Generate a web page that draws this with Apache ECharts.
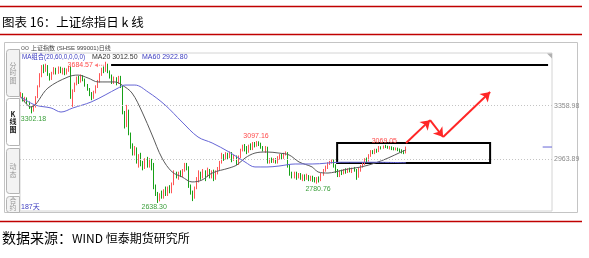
<!DOCTYPE html>
<html><head><meta charset="utf-8">
<script src="https://cdn.jsdelivr.net/npm/echarts@6/dist/echarts.min.js"></script>
<style>html,body{margin:0;padding:0;background:#fff;}#c{width:589px;height:258px;}</style>
</head><body><div id="c"></div>
<script>
// ---- data ----
const titleText = '图表 16：上证综指日 k 线';
const sourceLead = '数据来源：';
const sourceRest = 'WIND 恒泰期货研究所';
const headerText = '上证指数 (SHSE 999001)日线';
const maLegend = ['MA组合(20,60,0,0,0,0)', 'MA20 3012.50', 'MA60 2922.80'];
const yTicks = [3358.98, 2963.89];
const totalSlots = 257;
// [open, close, low, high]
const candles = [
[3430,3445,3420,3460],[3445,3400,3390,3452],[3400,3415,3385,3425],[3415,3380,3370,3420],[3380,3350,3335,3390],
[3350,3320,3302.18,3355],[3320,3350,3315,3365],[3350,3420,3345,3430],[3420,3500,3415,3510],[3500,3580,3495,3600],
[3580,3640,3570,3660],[3640,3620,3600,3665],[3620,3650,3610,3670],[3650,3590,3580,3660],[3590,3560,3545,3600],
[3560,3600,3550,3610],[3600,3630,3590,3645],[3630,3600,3590,3640],[3600,3640,3595,3650],[3640,3610,3600,3648],
[3610,3630,3590,3640],[3630,3600,3585,3640],[3600,3625,3590,3635],[3625,3640,3610,3655],[3640,3420,3410,3650],
[3420,3470,3350,3480],[3470,3520,3460,3530],[3520,3560,3510,3575],[3560,3540,3520,3580],[3540,3575,3530,3590],
[3575,3550,3540,3585],[3550,3510,3500,3560],[3510,3480,3470,3520],[3480,3450,3430,3490],[3450,3420,3400,3460],
[3420,3460,3410,3470],[3460,3500,3450,3510],[3500,3540,3490,3550],[3540,3590,3530,3600],[3590,3630,3580,3640],
[3630,3620,3600,3650],[3620,3660,3610,3684.57],[3660,3610,3600,3670],[3610,3580,3560,3620],[3580,3540,3520,3590],
[3540,3560,3520,3575],[3560,3530,3510,3570],[3530,3570,3520,3580],[3570,3500,3490,3580],[3500,3305,3295,3505],
[3305,3200,3190,3320],[3210,3340,3200,3365],[3320,3150,3140,3330],[3150,3060,3040,3160],[3060,3010,2990,3080],
[3000,3040,2990,3060],[3040,2950,2930,3050],[2950,2990,2900,3000],[2990,2930,2910,3010],[2930,2900,2880,2950],
[2900,2950,2890,2970],[2950,2920,2900,2980],[2920,2960,2900,2970],[2960,2930,2880,2965],[2930,2760,2740,2935],
[2760,2700,2690,2775],[2700,2660,2638.30,2720],[2660,2700,2650,2710],[2700,2680,2670,2730],[2680,2720,2670,2740],
[2720,2700,2690,2760],[2700,2740,2690,2760],[2740,2720,2710,2770],[2720,2780,2710,2790],[2780,2850,2770,2880],
[2850,2830,2820,2870],[2830,2860,2810,2870],[2860,2840,2830,2880],[2840,2880,2830,2890],[2880,2920,2870,2935],
[2920,2900,2880,2935],[2900,2760,2750,2910],[2760,2720,2700,2775],[2720,2680,2652,2730],[2680,2750,2670,2760],
[2750,2800,2740,2830],[2800,2860,2790,2880],[2860,2830,2810,2870],[2830,2870,2820,2890],[2870,2840,2800,2880],
[2840,2880,2830,2900],[2880,2850,2820,2890],[2850,2870,2820,2880],[2870,2830,2800,2885],[2830,2860,2810,2880],
[2860,2890,2850,2905],[2890,2940,2880,2950],[2940,2990,2930,3010],[2990,2970,2950,3000],[2970,3000,2960,3015],
[3000,2980,2960,3010],[2980,3010,2970,3020],[3010,2960,2940,3015],[2960,2980,2950,2995],[2980,2930,2920,2990],
[2930,2980,2920,2990],[2980,3030,2970,3040],[3030,3060,3020,3070],[3060,3040,3020,3075],[3040,3020,3000,3060],
[3020,3060,3010,3070],[3060,3040,3030,3080],[3040,3080,3030,3090],[3080,3060,3050,3090],[3060,3090,3055,3097.16],
[3090,3080,3060,3095],[3080,3050,3040,3085],[3050,3040,3020,3060],[3040,3050,3010,3060],[3050,2940,2930,3055],
[2940,2960,2930,2970],[2960,2945,2935,2975],[2945,2960,2935,2970],[2960,2940,2930,2970],[2940,2970,2930,2985],
[2970,2990,2960,3000],[2990,2975,2960,3005],[2975,3000,2965,3010],[3000,3010,2990,3020],[3010,2910,2900,3015],
[2910,2860,2840,2920],[2860,2840,2820,2870],[2840,2860,2820,2870],[2860,2830,2810,2870],[2830,2850,2820,2860],
[2850,2830,2810,2860],[2830,2840,2800,2850],[2840,2820,2800,2850],[2820,2840,2810,2855],[2840,2820,2800,2845],
[2820,2830,2800,2840],[2830,2810,2795,2840],[2810,2800,2790,2830],[2800,2820,2780.76,2830],[2820,2810,2790,2835],
[2810,2850,2800,2860],[2850,2880,2840,2890],[2880,2900,2870,2915],[2900,2930,2890,2940],[2930,2940,2920,2950],
[2940,2955,2930,2960],[2955,2920,2900,2960],[2920,2880,2860,2925],[2880,2850,2830,2890],[2850,2870,2830,2880],
[2870,2860,2845,2885],[2860,2880,2850,2890],[2880,2870,2855,2895],[2870,2885,2860,2895],[2885,2875,2865,2900],
[2875,2890,2860,2900],[2890,2880,2870,2905],[2880,2830,2810,2890],[2830,2880,2825,2900],[2880,2910,2870,2920],
[2910,2930,2900,2940],[2930,2960,2920,2970],[2960,2950,2940,2975],[2950,2990,2945,3000],[2990,3020,2980,3030],
[3020,3010,3000,3030],[3010,3030,3000,3040],[3030,3025,3010,3040],[3025,3050,3015,3060],[3050,3045,3035,3058],
[3045,3060,3040,3064],[3060,3055,3045,3069.05],[3055,3050,3040,3062],[3050,3052,3035,3060],[3052,3045,3030,3058],
[3045,3040,3028,3052],[3040,3044,3028,3050],[3044,3035,3022,3048],[3035,3028,3015,3042],[3028,3018,3005,3036],
[3018,3012,3000,3030],[3012,3050,3005,3056]
];
// [dayIndex, value]
const ma20 = [[0,3423],[4.8,3349],[13,3490],[22.7,3572],[27.5,3586],[32.4,3564],[37.2,3535],[42,3535],[45.4,3535],
[48.8,3512],[53.6,3453],[58.5,3312],[63.3,3142],[68.1,2971],[73,2868],[77.8,2831],[82.6,2794],[87.4,2808],[92.3,2860],
[100.5,2897],[104.3,2920],[108.2,2971],[113,3008],[118.8,3016],[124.6,3008],[129.5,2994],[134.3,2942],[140.6,2905],
[143.5,2868],[148.3,2860],[151.7,2868],[158,2890],[164.3,2905],[171,2934],[177.3,2971],[183.6,3016],[186,3031]];
const ma60 = [[0,3423],[6.8,3364],[14.5,3342],[19.3,3312],[25,3342],[33.8,3386],[40.6,3438],[46.9,3490],[50.2,3512],
[55,3512],[61.4,3460],[69.6,3364],[77.8,3238],[85.5,3127],[92.3,3083],[100.5,3016],[108.2,2942],[113,2905],[118.8,2905],
[124.6,2912],[132.4,2927],[140.6,2927],[154.6,2940],[171,2940],[186,2936]];
// extreme points labelled on the chart: [dayIndex, value]
const extremes = [[41,3684.57],[5,3302.18],[66,2638.30],[114,3097.16],[143,2780.76],[176,3069.05]];
// hand-drawn annotations (in data coordinates)
const resistance = {from:43.5, to:254.6, value:3660.6};
const box = {from:152.7, to:226.6, top:3082, bottom:2934};
const arrowPath = [[186,3082],[197.6,3252],[203.9,3127],[226.6,3460]];

const categories = Array.from({length: totalSlots}, (_, i) => 'D' + (i + 1));
const upColor = '#ff5656', downColor = '#17a017';
const cjk = '"Noto Sans CJK SC", sans-serif';
const num = '"Liberation Sans", "Noto Sans CJK SC", sans-serif';

const chart = echarts.init(document.getElementById('c'));
chart.setOption({
  animation: false,
  backgroundColor: '#fff',
  grid: {left: 20, right: 37, top: 53, bottom: 47, show: true, borderColor: '#d4d4d4', borderWidth: 1},
  xAxis: [
    {type: 'category', data: categories, boundaryGap: true, show: false},
    {type: 'value', min: -0.5, max: totalSlots - 0.5, show: false}
  ],
  yAxis: [{type: 'value', min: 2578.7, max: 3749.5, show: false}],
  series: [
    {type: 'candlestick', xAxisIndex: 0, yAxisIndex: 0, data: candles, barWidth: 1.3,
     itemStyle: {color: upColor, color0: downColor, borderColor: upColor, borderColor0: downColor, borderWidth: 1},
     markLine: {silent: true, symbol: ['none', 'none'],
       lineStyle: {type: [1, 2], color: '#c4c4c4', width: 1},
       label: {position: 'end', distance: 2, color: '#8a8a8a', fontSize: 7, fontFamily: num,
               formatter: p => Number(p.value).toFixed(2)},
       data: yTicks.map(v => ({yAxis: v}))}
    },
    {type: 'line', name: 'MA20', xAxisIndex: 1, yAxisIndex: 0, data: ma20, showSymbol: false, smooth: 0.35,
     lineStyle: {color: '#5a5a5a', width: 1}, z: 3,
     markLine: {silent: true, symbol: ['none', 'none'], label: {show: false},
       lineStyle: {color: '#000', width: 2, type: 'solid'},
       data: [[{coord: [resistance.from, resistance.value]}, {coord: [resistance.to, resistance.value]}]]}
    },
    {type: 'line', name: 'MA60', xAxisIndex: 1, yAxisIndex: 0, data: ma60, showSymbol: false, smooth: 0.35,
     lineStyle: {color: '#6666d6', width: 1}, z: 3,
     markArea: {silent: true, itemStyle: {color: 'rgba(0,0,0,0)', borderColor: '#000', borderWidth: 2},
       data: [[{coord: [box.from, box.top]}, {coord: [box.to, box.bottom]}]]},
     markLine: {silent: true, symbol: ['none', 'arrow'], symbolSize: 9, label: {show: false},
       lineStyle: {color: '#ff2626', width: 2, type: 'solid'},
       data: arrowPath.slice(1).map((p, k) => [{coord: arrowPath[k]}, {coord: p}])}
    }
  ]
});

function px(i, v) { return chart.convertToPixel({xAxisIndex: 1, yAxisIndex: 0}, [i, v]); }

const g = [];
// report frame
g.push({type: 'line', shape: {x1: 0, y1: 6.5, x2: 582, y2: 6.5}, style: {stroke: '#c00000', lineWidth: 1.5}});
g.push({type: 'text', x: 2, y: 22, style: {text: titleText, font: '12.5px ' + cjk, fill: '#000', textVerticalAlign: 'middle'}});
g.push({type: 'line', shape: {x1: 0, y1: 34.5, x2: 582, y2: 34.5}, style: {stroke: '#c00000', lineWidth: 1.5}});
g.push({type: 'line', shape: {x1: 0, y1: 221.5, x2: 582, y2: 221.5}, style: {stroke: '#c00000', lineWidth: 1.5}});
g.push({type: 'text', x: 2, y: 238, style: {text: sourceLead, font: '14px ' + cjk, fill: '#000', textVerticalAlign: 'middle'}});
g.push({type: 'text', x: 72, y: 238, style: {text: sourceRest, font: '12px ' + cjk, fill: '#000', textVerticalAlign: 'middle'}});
// screenshot frame
g.push({type: 'rect', z: -1, shape: {x: 4.5, y: 42.5, width: 573, height: 170}, style: {fill: '#fff', stroke: '#c4c4c4', lineWidth: 1}});
g.push({type: 'text', x: 21, y: 48, style: {text: 'oo', font: '7px ' + num, fill: '#666', textVerticalAlign: 'middle'}});
g.push({type: 'text', x: 31, y: 48, style: {text: headerText, font: '6px ' + num, fill: '#444', textVerticalAlign: 'middle'}});
g.push({type: 'text', x: 22, y: 57.5, style: {text: maLegend[0], font: '6.3px ' + num, fill: '#3c3cc0', textVerticalAlign: 'middle'}});
g.push({type: 'text', x: 92, y: 57.5, style: {text: maLegend[1], font: '7px ' + num, fill: '#333', textVerticalAlign: 'middle'}});
g.push({type: 'text', x: 142, y: 57.5, style: {text: maLegend[2], font: '7px ' + num, fill: '#3c3cc0', textVerticalAlign: 'middle'}});
g.push({type: 'text', x: 21, y: 207, style: {text: candles.length + '天', font: '7px ' + num, fill: '#3c3cc0', textVerticalAlign: 'middle'}});
g.push({type: 'polygon', shape: {points: [[547, 53.5], [552, 53.5], [552, 58.5]]}, style: {fill: '#b0b0b0'}});
// side tabs
const tabs = [{y: 49, h: 47, t: ['分', '时', '图'], sel: false}, {y: 98, h: 47, t: ['K', '线', '图'], sel: true},
              {y: 148, h: 45, t: ['动', '态'], sel: false}, {y: 196, h: 16, t: ['合', '约'], sel: false}];
tabs.forEach(tb => {
  g.push({type: 'rect', shape: {x: 6.5, y: tb.y + 0.5, width: 13, height: tb.h, r: [3, 0, 0, 3]},
          style: {fill: tb.sel ? '#fff' : '#f3f3f3', stroke: '#b4b4b4', lineWidth: 1}});
  const step = 7.5, start = tb.y + tb.h / 2 - (tb.t.length - 1) * step / 2;
  tb.t.forEach((ch, k) => {
    if (start + k * step < 212) g.push({type: 'text', x: 13, y: start + k * step,
      style: {text: ch, font: (tb.sel ? 'bold ' : '') + '7px ' + cjk, fill: tb.sel ? '#222' : '#999', textAlign: 'center', textVerticalAlign: 'middle'}});
  });
});
// labels on highs / lows
const offs = [[-13, 3.5, 'right'], [2, 5.5, 'center'], [-3.5, 4.5, 'center'], [-1, -4.5, 'center'], [1, 5, 'center'], [-1, -4, 'center']];
extremes.forEach((e, k) => {
  const p = px(e[0], e[1]);
  const o = offs[k];
  const isHigh = candles[e[0]][3] === e[1];
  g.push({type: 'text', x: p[0] + o[0], y: p[1] + o[1], z: 10,
    style: {text: e[1].toFixed(2), font: '7px ' + num, fill: isHigh ? '#ff4a4a' : '#3a9e3a', textAlign: o[2], textVerticalAlign: 'middle'}});
  if (o[2] === 'right') {
    g.push({type: 'line', z: 10, shape: {x1: p[0] + o[0] + 2, y1: p[1] + o[1], x2: p[0] - 1, y2: p[1] + o[1]},
            style: {stroke: '#ff7a7a', lineWidth: 1, lineDash: [1, 1]}});
    g.push({type: 'polygon', z: 10, shape: {points: [[p[0] + o[0] + 2, p[1] + o[1]], [p[0] + o[0] + 5, p[1] + o[1] - 2], [p[0] + o[0] + 5, p[1] + o[1] + 2]]},
            style: {fill: '#ff7a7a'}});
  }
});
// current value marker on the right edge
const mk = px(252, 3052.8), mk2 = px(256.5, 3052.8);
g.push({type: 'line', shape: {x1: mk[0], y1: mk[1], x2: mk2[0], y2: mk2[1]}, style: {stroke: '#6666d6', lineWidth: 1}});
chart.setOption({graphic: g});
</script>
</body></html>
